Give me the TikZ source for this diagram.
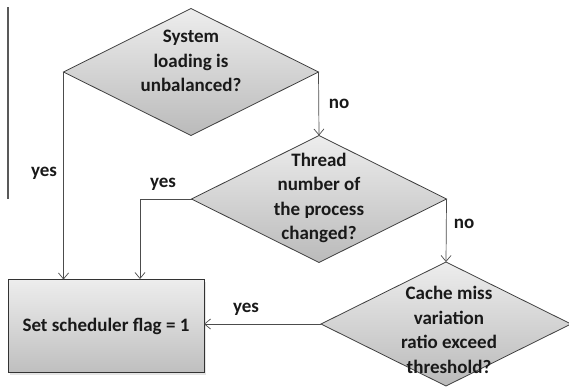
\documentclass[tikz,border=0pt]{standalone}
\usepackage{fontspec}
\setmainfont{Carlito}
\usetikzlibrary{shapes.geometric,arrows.meta,shadows}
\begin{document}
\begin{tikzpicture}[x=1pt,y=-1pt,
  dec/.style={diamond, draw=black!75, line width=0.8pt, top color=black!7, bottom color=black!27,
    minimum width=255pt, minimum height=127pt, inner sep=0pt, outer sep=0pt},
  act/.style={rectangle, draw=black!80, line width=0.8pt, top color=black!7, bottom color=black!25,
    minimum width=196pt, minimum height=93pt, inner sep=0pt, outer sep=0pt,
    drop shadow={opacity=0.2, shadow xshift=1.5pt, shadow yshift=-2pt}},
  txt/.style={font=\fontsize{19}{24.5}\selectfont\bfseries, align=center, text=black!90},
  lab/.style={font=\fontsize{19}{22}\selectfont\bfseries, text=black!90},
  conn/.style={draw=black!70, line width=0.7pt, -{Straight Barb[length=6pt,width=10pt]}}]
\useasboundingbox (0,0) rectangle (569,388);
\fill[white] (0,0) rectangle (569,388);
\draw[black!65, line width=1.3pt] (8,7) -- (8,199);
% shapes
\node[dec] (d1) at (191,72) {};
\node[dec] (d2) at (319,199) {};
\node[dec, minimum width=250pt, minimum height=124pt] (d3) at (446,324) {};
\node[act] (r) at (106,326) {};
% texts
\node[txt] (t1) at (191,61) {System\\loading is\\unbalanced?};
\node[txt] (t2) at (319,198) {Thread\\number of\\the process\\changed?};
\node[txt] (t3) at (449,330) {Cache miss\\variation\\ratio exceed\\threshold?};
\node[txt] (tr) at (106,326) {Set scheduler flag = 1};
% connectors
\coordinate (c1) at (140,279);
\draw[conn] (d1.east) -- (d2.north);
\draw[conn] (d2.east) -- (d3.north);
\draw[conn] (d1.west) -- (d1.west |- r.north);
\draw[conn] (d2.west) -| (c1);
\draw[conn] (d3.west) -- (d3.west -| r.east);
% labels
\node[lab] (n1) at (339,104) {no};
\node[lab] (n2) at (464,224) {no};
\node[lab] (y1) at (44,173) {yes};
\node[lab] (y2) at (163,184) {yes};
\node[lab] (y3) at (246,309) {yes};
\end{tikzpicture}
\end{document}
